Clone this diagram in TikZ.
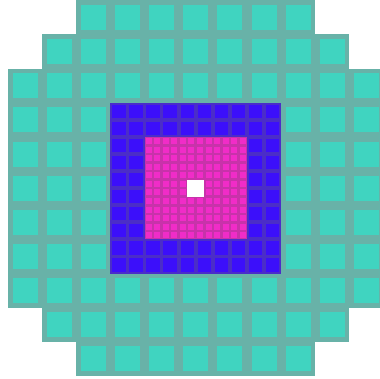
\documentclass[tikz,border=0pt]{standalone}
\usetikzlibrary{calc}
\definecolor{tealbg}{HTML}{68B2A8}
\definecolor{tealin}{HTML}{40D4C0}
\definecolor{bluebg}{HTML}{4B2DC8}
\definecolor{bluein}{HTML}{3C0FFA}
\definecolor{pinkbg}{HTML}{C832AA}
\definecolor{pinkin}{HTML}{F02CC8}
\tikzset{
  outerbg/.style={fill=tealbg},
  outerin/.style={fill=tealin},
  bluecellbg/.style={fill=bluebg},
  bluecellin/.style={fill=bluein},
  pinkcellbg/.style={fill=pinkbg},
  pinkcellin/.style={fill=pinkin},
  hole/.style={fill=white}
}
\begin{document}
\begin{tikzpicture}[x=1pt,y=-1pt]
\useasboundingbox (0,0) rectangle (380,378);
\clip (0,0) rectangle (380,378);
\def\P{34.15}\def\X{7.9}\def\Y{0.3}
% outer grid
\foreach \r in {0,...,10} {
  \pgfmathtruncatemacro\dr{abs(\r-5)}
  \pgfmathtruncatemacro\cmin{\dr==5 ? 2 : (\dr==4 ? 1 : 0)}
  \pgfmathtruncatemacro\cmax{10-\cmin}
  \foreach \c in {\cmin,...,\cmax} {
    \pgfmathsetmacro\xa{\X+\c*\P}
    \pgfmathsetmacro\ya{\Y+\r*\P}
    \fill[outerbg] (\xa,\ya) rectangle ++(\P,\P);
    \fill[outerin] ($(\xa,\ya)+(4.6,4.6)$) rectangle ++(25,25);
  }
}
% blue region: cols/rows 3..7 -> 10x10 half cells
\pgfmathsetmacro\bx{\X+3*\P}
\pgfmathsetmacro\by{\Y+3*\P}
\pgfmathsetmacro\H{\P/2}
\fill[bluecellbg] (\bx,\by) rectangle ++(5*\P,5*\P);
\foreach \i in {0,...,9} {
  \foreach \j in {0,...,9} {
    \fill[bluecellin] ($(\bx,\by)+(\i*\H+1.9,\j*\H+1.9)$) rectangle ++(13.3,13.3);
  }
}
% pink region: cols/rows 4..6 -> 12x12 quarter cells
\pgfmathsetmacro\px{\X+4*\P}
\pgfmathsetmacro\py{\Y+4*\P}
\pgfmathsetmacro\Q{\P/4}
\fill[pinkcellbg] (\px,\py) rectangle ++(3*\P,3*\P);
\foreach \i in {0,...,11} {
  \foreach \j in {0,...,11} {
    \fill[pinkcellin] ($(\px,\py)+(\i*\Q+1.3,\j*\Q+1.3)$) rectangle ++(6,6);
  }
}
% white centre
\fill[hole] ($(\px,\py)+(5*\Q,5*\Q)$) rectangle ++(2*\Q,2*\Q);
\end{tikzpicture}
\end{document}
